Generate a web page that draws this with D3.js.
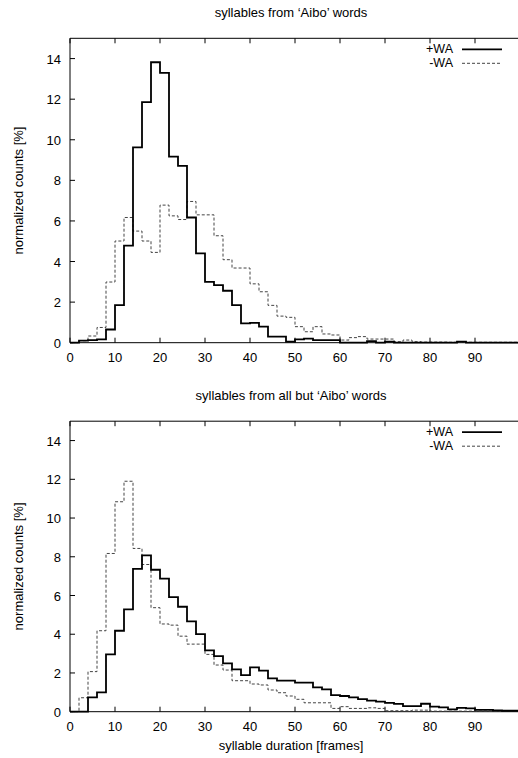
<!DOCTYPE html>
<html lang="en">
<head>
<meta charset="utf-8">
<title>syllable durations</title>
<script src="https://d3js.org/d3.v7.min.js"></script>
<style>
  body { margin: 0; background: #fff; }
  text { font-family: "Liberation Sans", Arial, sans-serif; font-size: 13px; fill: #000; }
  .legend { font-size: 12.5px; }
</style>
</head>
<body>
<script>
// histogram bins are 2 frames wide, starting at 0
const binWidth = 2
const xTicks = [0, 10, 20, 30, 40, 50, 60, 70, 80, 90]
const yTicks = [0, 2, 4, 6, 8, 10, 12, 14]

const aiboPlus = [0, 0.1, 0.13, 0.16, 0.65, 1.85, 4.78, 9.63, 11.85, 13.82, 13.3, 9.17, 8.71, 6.17, 4.4,
  3.0, 2.84, 2.56, 1.85, 0.95, 0.98, 0.79, 0.3, 0.3, 0.05, 0.16, 0.2, 0.13, 0.13, 0.13,
  0, 0, 0, 0.08, 0, 0.05, 0, 0, 0, 0, 0, 0, 0, 0.05, 0, 0, 0, 0, 0, 0]
const aiboMinus = [0, 0.1, 0.33, 0.75, 2.99, 5.01, 6.17, 5.5, 5.01, 4.45, 6.78, 6.25, 6.07, 6.96, 6.3,
  6.3, 5.27, 4.09, 3.68, 3.68, 2.9, 2.51, 1.84, 1.31, 1.25, 0.79, 0.54, 0.79, 0.43, 0.38,
  0.13, 0.25, 0.3, 0.18, 0.18, 0.18, 0.05, 0.13, 0.05, 0.03, 0.03, 0.03, 0.02, 0.02, 0.02, 0.02, 0.02, 0.02, 0.02, 0.02]
const otherPlus = [0, 0, 0.74, 1.0, 2.96, 4.18, 5.28, 7.37, 8.07, 7.33, 6.87, 5.92, 5.42, 4.66, 4.01,
  3.17, 2.87, 2.5, 2.19, 1.89, 2.29, 2.12, 1.72, 1.6, 1.6, 1.5, 1.5, 1.26, 1.15, 0.86,
  0.81, 0.74, 0.65, 0.57, 0.52, 0.46, 0.4, 0.29, 0.29, 0.41, 0.26, 0.22, 0.12, 0.2, 0.17, 0.09, 0.09, 0.07, 0.05, 0.05]
const otherMinus = [0, 0.72, 2.07, 4.18, 8.17, 10.84, 11.9, 8.43, 7.6, 5.37, 4.53, 4.47, 3.9, 3.49, 3.49,
  2.96, 2.41, 2.15, 1.6, 1.6, 1.43, 1.38, 1.12, 0.98, 0.81, 0.64, 0.46, 0.46, 0.46, 0.17,
  0.26, 0.17, 0.17, 0.2, 0.17, 0.05, 0.05, 0.05, 0.08, 0.08, 0.03, 0.03, 0.03, 0.03, 0.03, 0.03, 0.03, 0.03, 0.03, 0.03]

const W = 518, H = 758
const svg = d3.select('body').append('svg').attr('width', W).attr('height', H)

const x = d3.scaleLinear().domain([0, 100]).range([70, 520])

function panel(top, bottom, title, plus, minus, showXLabel) {
  const y = d3.scaleLinear().domain([0, 15]).range([bottom, top])
  const g = svg.append('g')

  // frame (right side runs off the window)
  g.append('path')
    .attr('d', `M${x(100)},${top}H${x(0)}V${bottom}H${x(100)}`)
    .attr('fill', 'none').attr('stroke', '#000').attr('stroke-width', 1)

  // ticks, mirrored on the top edge
  xTicks.forEach(t => {
    g.append('line').attr('x1', x(t)).attr('x2', x(t)).attr('y1', bottom).attr('y2', bottom - 5).attr('stroke', '#000')
    g.append('line').attr('x1', x(t)).attr('x2', x(t)).attr('y1', top).attr('y2', top + 5).attr('stroke', '#000')
    g.append('text').attr('x', x(t)).attr('y', bottom + 19).attr('text-anchor', 'middle').text(t)
  })
  yTicks.forEach(t => {
    g.append('line').attr('x1', x(0)).attr('x2', x(0) + 5).attr('y1', y(t)).attr('y2', y(t)).attr('stroke', '#000')
    g.append('text').attr('x', x(0) - 9).attr('y', y(t) + 5).attr('text-anchor', 'end').text(t)
  })

  g.append('text').attr('x', 291).attr('y', top - 21).attr('text-anchor', 'middle').text(title)
  g.append('text')
    .attr('transform', `translate(23,${(top + bottom) / 2}) rotate(-90)`)
    .attr('text-anchor', 'middle').text('normalized counts [%]')
  if (showXLabel) {
    g.append('text').attr('x', 291).attr('y', bottom + 38).attr('text-anchor', 'middle').text('syllable duration [frames]')
  }

  const line = d3.line().x(d => x(d[0])).y(d => y(d[1])).curve(d3.curveStepAfter)
  const pts = v => v.map((d, i) => [i * binWidth, d]).concat([[v.length * binWidth, v[v.length - 1]]])

  g.append('path').attr('d', line(pts(minus)))
    .attr('fill', 'none').attr('stroke', '#444').attr('stroke-width', 1).attr('stroke-dasharray', '3,2')
  g.append('path').attr('d', line(pts(plus)))
    .attr('fill', 'none').attr('stroke', '#000').attr('stroke-width', 1.8)

  // legend
  g.append('text').attr('class', 'legend').attr('x', 453).attr('y', top + 15).attr('text-anchor', 'end').text('+WA')
  g.append('line').attr('x1', 462).attr('x2', 502).attr('y1', top + 11).attr('y2', top + 11)
    .attr('stroke', '#000').attr('stroke-width', 1.8)
  g.append('text').attr('class', 'legend').attr('x', 453).attr('y', top + 29).attr('text-anchor', 'end').text('-WA')
  g.append('line').attr('x1', 462).attr('x2', 502).attr('y1', top + 25).attr('y2', top + 25)
    .attr('stroke', '#444').attr('stroke-width', 1).attr('stroke-dasharray', '3,2')
}

panel(38.3, 342.7, 'syllables from \u2018Aibo\u2019 words', aiboPlus, aiboMinus, false)
panel(421.2, 711.7, 'syllables from all but \u2018Aibo\u2019 words', otherPlus, otherMinus, true)
</script>
</body>
</html>
